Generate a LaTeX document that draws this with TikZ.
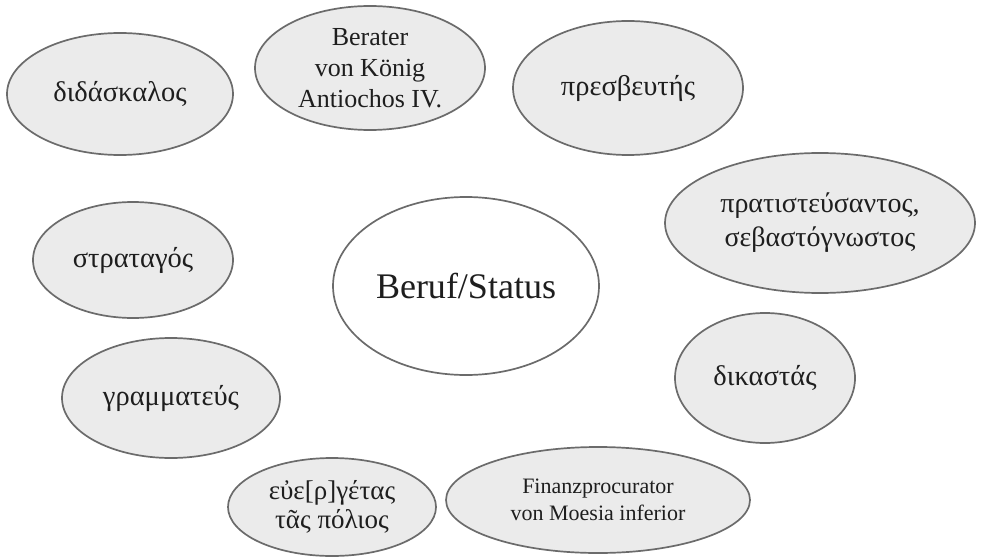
\documentclass[tikz,border=0pt]{standalone}
\usepackage{fontspec}
\setmainfont{Liberation Serif}
\usetikzlibrary{shapes.geometric}
\definecolor{rim}{HTML}{6B6B6B}
\definecolor{pale}{HTML}{EBEBEB}
\definecolor{ink}{HTML}{1E1E1E}
\tikzset{
  bubble/.style={ellipse, draw=rim, line width=1.7pt, fill=pale, inner sep=0pt, align=center, text=ink},
  hub/.style={ellipse, draw=rim, line width=1.7pt, fill=white, inner sep=0pt, align=center, text=ink}
}
\begin{document}
\begin{tikzpicture}[x=1pt,y=-1pt]
\useasboundingbox (0,0) rectangle (981,556);
\node[bubble, minimum width=226pt, minimum height=122pt, font=\fontsize{28.5}{34}\selectfont] (didaskalos) at (120,94) {διδάσκαλος};
\node[bubble, minimum width=230pt, minimum height=124pt, font=\fontsize{26}{31}\selectfont] (berater) at (370,68) {Berater\\von König\\Antiochos IV.};
\node[bubble, minimum width=230pt, minimum height=134pt, font=\fontsize{28.5}{34}\selectfont] (presbeutes) at (628,88) {πρεσβευτής};
\node[bubble, minimum width=310pt, minimum height=140pt, font=\fontsize{28}{34}\selectfont] (pratisteusantos) at (820,223) {πρατιστεύσαντος,\\σεβαστόγνωστος};
\node[bubble, minimum width=200pt, minimum height=116pt, font=\fontsize{28.5}{34}\selectfont] (strategos) at (133,260) {στραταγός};
\node[hub, minimum width=266pt, minimum height=178pt, font=\fontsize{36}{42}\selectfont] (beruf) at (466,286) {Beruf/Status};
\node[bubble, minimum width=180pt, minimum height=130pt, font=\fontsize{28.5}{34}\selectfont] (dikastas) at (765,378) {δικαστάς};
\node[bubble, minimum width=218pt, minimum height=120pt, font=\fontsize{28.5}{34}\selectfont] (grammateus) at (171,398) {γραμματεύς};
\node[bubble, minimum width=208pt, minimum height=98pt, font=\fontsize{27}{29}\selectfont] (euergetas) at (332,507) {εὐε[ρ]γέτας\\τᾶς πόλιος};
\node[bubble, minimum width=304pt, minimum height=106pt, font=\fontsize{22}{27}\selectfont] (finanz) at (598,500) {Finanzprocurator\\von Moesia inferior};
\end{tikzpicture}
\end{document}
